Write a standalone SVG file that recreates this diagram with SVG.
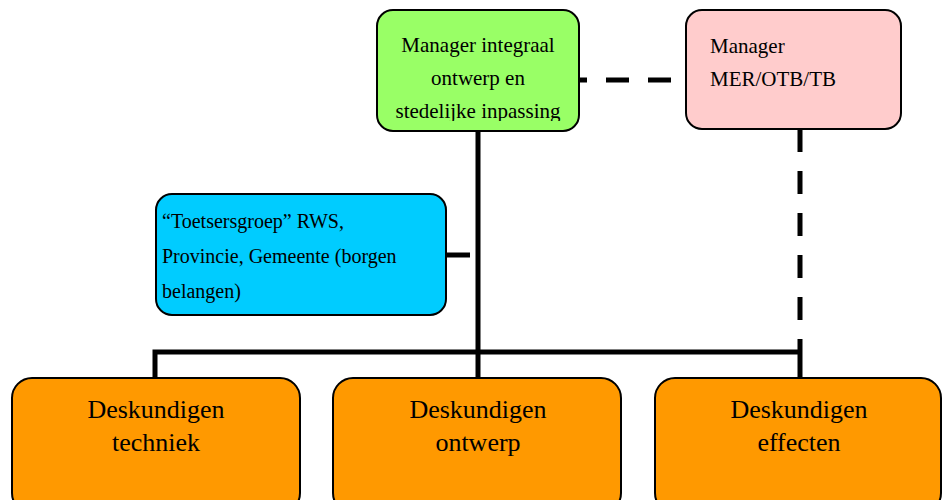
<svg xmlns="http://www.w3.org/2000/svg" width="942" height="500" viewBox="0 0 942 500">
  <style>
    .box { stroke: #000; stroke-width: 2; }
    .t { font-family: "Liberation Serif", "Times New Roman", serif; font-size: 20px; fill: #000; }
    .tm { font-size: 21px; }
    .tb { font-family: "Liberation Serif", "Times New Roman", serif; font-size: 26px; fill: #000; text-anchor: middle; }
    .solid { stroke: #000; stroke-width: 5; fill: none; }
    .dash { stroke: #000; stroke-width: 5; fill: none; stroke-dasharray: 23 19; }
  </style>
  <defs>
    <clipPath id="clipMgr">
      <rect x="377" y="10" width="202" height="111"/>
    </clipPath>
  </defs>
  <rect width="942" height="500" fill="#fff"/>

  <!-- connectors -->
  <g id="connectors">
    <line class="solid" x1="478" y1="130" x2="478" y2="354"/>
    <line class="solid" x1="446" y1="255" x2="470" y2="255"/>
    <polyline class="solid" points="155,378 155,352 800,352"/>
    <line class="solid" x1="478" y1="352" x2="478" y2="378"/>
    <line class="solid" x1="800" y1="352" x2="800" y2="378"/>
    <line class="dash" x1="579" y1="80" x2="686" y2="80" stroke-dashoffset="15"/>
    <line class="dash" x1="800" y1="129" x2="800" y2="352" stroke-dashoffset="0"/>
  </g>

  <g id="manager-ontwerp">
    <rect class="box" x="377" y="10" width="202" height="121" rx="16" fill="#99ff66"/>
    <g clip-path="url(#clipMgr)">
      <text class="t tm" x="478" y="52" text-anchor="middle">Manager integraal</text>
      <text class="t tm" x="478" y="85" text-anchor="middle">ontwerp en</text>
      <text class="t tm" x="478" y="118" text-anchor="middle">stedelijke inpassing</text>
    </g>
  </g>

  <g id="manager-mer">
    <rect class="box" x="686" y="10" width="215" height="119" rx="16" fill="#ffcccc"/>
    <text class="t tm" x="710" y="53">Manager</text>
    <text class="t tm" x="710" y="86">MER/OTB/TB</text>
  </g>

  <g id="toetsersgroep">
    <rect class="box" x="156" y="194" width="290" height="121" rx="16" fill="#00ccff"/>
    <text class="t" x="162" y="228">“Toetsersgroep” RWS,</text>
    <text class="t" x="162" y="263">Provincie, Gemeente (borgen</text>
    <text class="t" x="162" y="298">belangen)</text>
  </g>

  <g id="deskundigen-techniek">
    <rect class="box" x="12" y="378" width="288" height="135" rx="20" fill="#ff9900"/>
    <text class="tb" x="156" y="418">Deskundigen</text>
    <text class="tb" x="156" y="451">techniek</text>
  </g>

  <g id="deskundigen-ontwerp">
    <rect class="box" x="333" y="378" width="288" height="135" rx="20" fill="#ff9900"/>
    <text class="tb" x="478" y="418">Deskundigen</text>
    <text class="tb" x="478" y="451">ontwerp</text>
  </g>

  <g id="deskundigen-effecten">
    <rect class="box" x="655" y="378" width="286" height="135" rx="20" fill="#ff9900"/>
    <text class="tb" x="799" y="418">Deskundigen</text>
    <text class="tb" x="799" y="451">effecten</text>
  </g>
</svg>
